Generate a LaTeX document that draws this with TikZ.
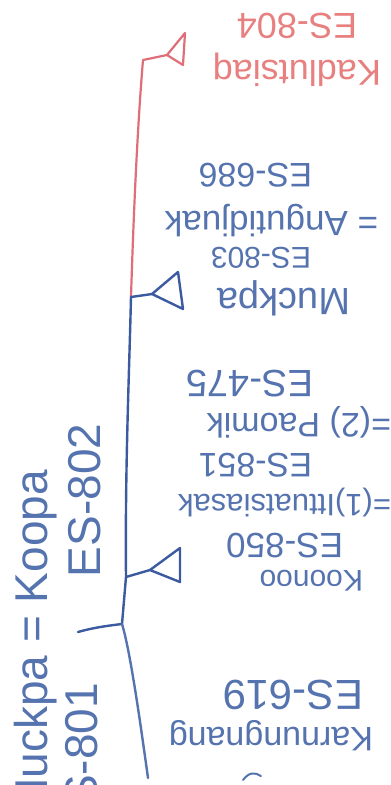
\documentclass[tikz,border=0pt]{standalone}
\usepackage{fontspec}
\setmainfont{Liberation Sans}
\definecolor{penblue}{RGB}{85,115,175}
\definecolor{lineblue}{RGB}{60,90,160}
\definecolor{penred}{RGB}{232,128,128}
\definecolor{linered}{RGB}{222,110,120}
\newcommand{\fsz}[1]{\fontsize{#1}{#1}\selectfont}
\tikzset{
  txt/.style={inner sep=0pt, outer sep=0pt},
  bluetxt/.style={txt, text=penblue},
  redtxt/.style={txt, text=penred},
  upside/.style={rotate=180, anchor=base west},
  bluewire/.style={draw=lineblue, line width=2.4pt, line cap=round, line join=round},
  redwire/.style={draw=linered, line width=2.2pt, line cap=round, line join=round},
}
\begin{document}
\begin{tikzpicture}[x=1pt, y=-1pt]
\useasboundingbox (0,0) rectangle (391,785);
\clip (0,0) rectangle (391,785);
\fill[white] (0,0) rectangle (391,785);

% coordinates of the tree
\coordinate (rtop) at (143,60);
\coordinate (rtip) at (167,55);
\coordinate (rt1) at (185,33);
\coordinate (rt2) at (183,65);
\coordinate (j1) at (131,297);
\coordinate (mtip) at (152,294);
\coordinate (mt1) at (178,272);
\coordinate (mt2) at (183,309);
\coordinate (j2) at (126,577);
\coordinate (ktip) at (150,570);
\coordinate (kt1) at (180,548);
\coordinate (kt2) at (180,582);
\coordinate (j3) at (122,624);
\coordinate (lend) at (78,632);
\coordinate (bend) at (148,778);

% red part
\draw[redwire] (j1) .. controls (134,200) and (138,120) .. (rtop) -- (rtip);
\draw[redwire] (rtip) -- (rt1) -- (rt2) -- cycle;

% blue part
\draw[bluewire] (j1) -- (mtip);
\draw[bluewire] (mtip) -- (mt1) -- (mt2) -- cycle;
\draw[bluewire] (j1) .. controls (129,380) and (125,470) .. (j2) -- (j3);
\draw[bluewire] (j2) -- (ktip);
\draw[bluewire] (ktip) -- (kt1) -- (kt2) -- cycle;
\draw[bluewire] (j3) .. controls (105,626) and (92,628) .. (lend);
\draw[bluewire, draw=penblue] (j3) .. controls (130,650) and (140,720) .. (bend);
\draw[draw=penblue, line width=2pt, line cap=round] (243,780) .. controls (249,772) and (255,772) .. (261,776);

% red labels
\node[redtxt, upside, font=\fsz{36}] (kad) at (381,60) {Kadlutsiaq};
\node[redtxt, upside, font=\fsz{36}] (es804) at (357,13) {ES-804};

% Muckpa group
\node[bluetxt, upside, font=\fsz{38}] (muck) at (350,288) {Muckpa};
\node[bluetxt, upside, font=\fsz{30}] (es803) at (311,247) {ES-803};
\node[bluetxt, upside, font=\fsz{35}] (ang) at (378,211) {= Angutidjuak};
\node[bluetxt, upside, font=\fsz{34}] (es686) at (312,163) {ES-686};

% Koonoo group
\node[bluetxt, upside, font=\fsz{30}] (koo) at (363,570) {Koonoo};
\node[bluetxt, upside, font=\fsz{35}] (es850) at (343,533) {ES-850};
\node[bluetxt, upside, font=\fsz{31}] (itt) at (391,494) {=(1)Ittuatsiasak};
\node[bluetxt, upside, font=\fsz{34}] (es851) at (312,453) {ES-851};
\node[bluetxt, upside, font=\fsz{34}] (pao) at (391,413) {=(2) Paomik};
\node[bluetxt, upside, font=\fsz{38}] (es475) at (313,370) {ES-475};

% bottom group
\node[bluetxt, upside, font=\fsz{42}] (es619) at (363,680) {ES-619};
\node[bluetxt, upside, font=\fsz{34}] (kar) at (373,727) {Karnungnang};

% left labels
\node[bluetxt, rotate=90, anchor=base east, font=\fsz{46}] (koopa) at (47,470) {Muckpa = Koopa};
\node[bluetxt, rotate=90, anchor=base west, font=\fsz{46}] (es802) at (100,577) {ES-802};
\node[bluetxt, rotate=90, anchor=base east, font=\fsz{46}] (es801) at (97,683) {ES-801};
\end{tikzpicture}
\end{document}
